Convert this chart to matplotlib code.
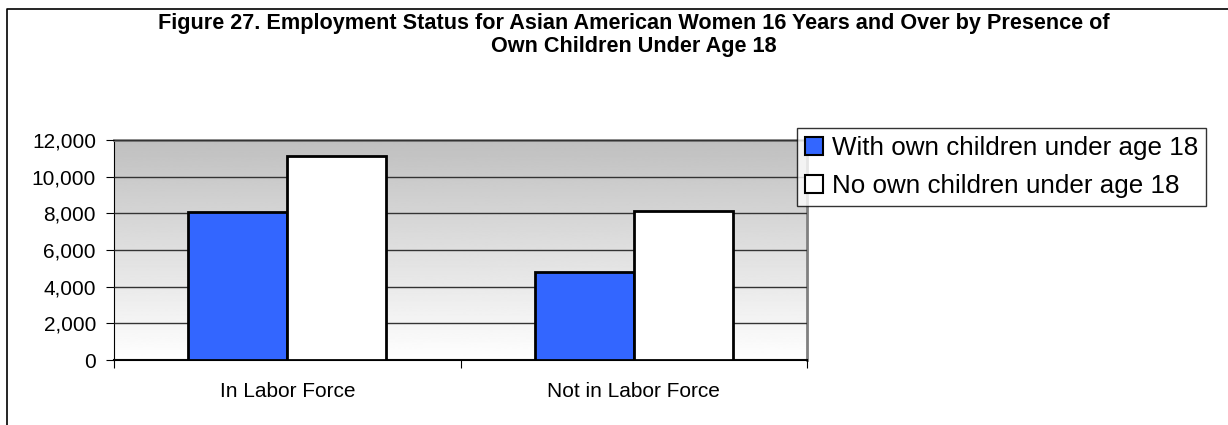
import matplotlib
matplotlib.use("Agg")
import matplotlib.pyplot as plt
import numpy as np
from matplotlib.lines import Line2D
from matplotlib.patches import Patch
from matplotlib.ticker import FuncFormatter

plt.rcParams['font.family'] = ['Liberation Sans', 'DejaVu Sans']

categories = ['In Labor Force', 'Not in Labor Force']
series_names = ['With own children under age 18', 'No own children under age 18']
with_children = [8070, 4780]
no_children = [11120, 8120]
colors = ['#3366ff', '#ffffff']

fig = plt.figure(figsize=(12.28, 4.25), dpi=100)
ax = fig.add_axes([114 / 1228, 1 - 360 / 425, (807 - 114) / 1228, 220 / 425])

# gradient background, grey at top to white at bottom
grad = np.linspace(1.0, 0.75, 256).reshape(-1, 1)
ax.imshow(grad, cmap='gray', vmin=0, vmax=1, aspect='auto',
          extent=(-0.5, 1.5, 0, 12000), zorder=0, origin='lower')
ax.set_ylim(0, 12000)
ax.set_xlim(-0.5, 1.5)

x = np.arange(len(categories))
w = 0.286
ax.bar(x - w / 2, with_children, w, color=colors[0], edgecolor='black', linewidth=2, zorder=3)
ax.bar(x + w / 2, no_children, w, color=colors[1], edgecolor='black', linewidth=2, zorder=3)

ax.set_yticks(range(0, 12001, 2000))
ax.yaxis.set_major_formatter(FuncFormatter(lambda v, p: f'{int(v):,}'))
ax.yaxis.grid(True, color='#333333', linewidth=1)
ax.set_axisbelow(False)
for gl in ax.get_ygridlines():
    gl.set_zorder(1)

ax.set_xticks([-0.5, 0.5, 1.5])
ax.set_xticklabels([])
ax.set_xticks(x, minor=True)
ax.set_xticklabels(categories, minor=True)
ax.tick_params(axis='x', which='minor', length=0, pad=16, labelsize=15)
ax.tick_params(axis='x', which='major', length=6, color='black', direction='out')
ax.tick_params(axis='y', length=6, labelsize=15, pad=7)

ax.spines['top'].set_color('#808080')
ax.spines['right'].set_color('#808080')
ax.spines['right'].set_linewidth(2)
ax.spines['top'].set_linewidth(2)
ax.spines['left'].set_color('black')
ax.spines['bottom'].set_color('black')
ax.spines['bottom'].set_linewidth(1.5)

handles = [Patch(facecolor=c, edgecolor='black', linewidth=1.5) for c in colors]
leg = fig.legend(handles, series_names, loc='upper left',
                 bbox_to_anchor=(797 / 1228, 1 - 128 / 425), fontsize=18.7,
                 frameon=True, fancybox=False, edgecolor='black',
                 handlelength=0.7, handleheight=0.7, handletextpad=0.35,
                 borderpad=0.3, labelspacing=0.55, borderaxespad=0)
leg.get_frame().set_linewidth(1)

fig.text(634 / 1228, 1 - 13 / 425,
         'Figure 27. Employment Status for Asian American Women 16 Years and Over by Presence of\n'
         'Own Children Under Age 18',
         ha='center', va='top', fontsize=15.6, fontweight='bold', linespacing=1.12)

# outer chart frame (only left and top edges fall inside the picture)
fig.add_artist(Line2D([7 / 1228, 7 / 1228, 1], [0, 1 - 9 / 425, 1 - 9 / 425],
                      color='black', linewidth=1.2, transform=fig.transFigure))

fig.savefig('out.png', dpi=100)
